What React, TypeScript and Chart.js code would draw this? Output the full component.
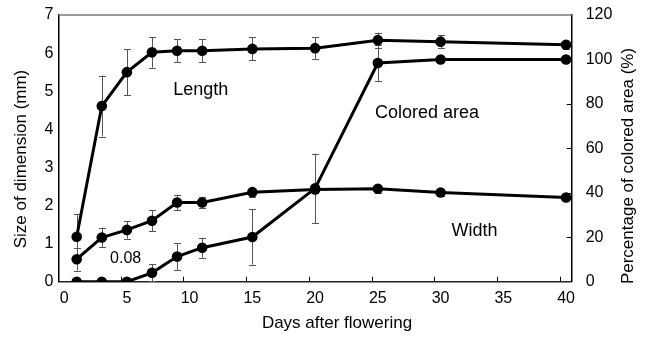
import React, { useEffect, useRef } from "react";
import { Chart, registerables } from "chart.js";

Chart.register(...registerables);

const days = [1, 3, 5, 7, 9, 11, 15, 20, 25, 30, 40];
const lengthMm = [1.18, 4.61, 5.5, 6.02, 6.06, 6.06, 6.11, 6.13, 6.34, 6.3, 6.22];
const lengthErr = [0.6, 0.8, 0.6, 0.4, 0.3, 0.3, 0.3, 0.28, 0.2, 0.17, 0.1];
const widthMm = [0.59, 1.16, 1.36, 1.6, 2.08, 2.08, 2.35, 2.42, 2.44, 2.34, 2.21];
const widthErr = [0.3, 0.26, 0.23, 0.28, 0.2, 0.15, 0.12, 0.1, 0.1, 0.1, 0.05];
const coloredPct = [0, 0, 0, 4.0, 11.3, 15.3, 20.1, 42, 98.4, 100, 100];
const coloredErr = [0, 0, 0, 3.8, 6, 4.5, 12.4, 15.6, 8, 0, 0];

const xTicks = [0, 5, 10, 15, 20, 25, 30, 35, 40];
const rightTicks = [20, 40, 60, 80, 100];

const notes = [
  { text: "Length", x: 8.7, y: 5.03, size: 18 },
  { text: "Colored area", x: 24.77, y: 4.43, size: 18 },
  { text: "Width", x: 30.88, y: 1.33, size: 18 },
  { text: "0.08", x: 3.66, y: 0.61, size: 16 },
];

const xTitle = "Days after flowering";
const yTitle = "Size of dimension (mm)";
const y2Title = "Percentage of colored area (%)";

const FONT = "'Liberation Sans', Arial, sans-serif";

const errorBars = {
  id: "errorBars",
  beforeDatasetsDraw(chart: any) {
    const ctx = chart.ctx;
    ctx.save();
    ctx.strokeStyle = "#555";
    ctx.lineWidth = 1;
    chart.data.datasets.forEach((ds: any) => {
      const ys = chart.scales[ds.yAxisID];
      const xs = chart.scales.x;
      ds.data.forEach((p: any, i: number) => {
        const e = ds.errors[i];
        if (!e) return;
        const px = Math.round(xs.getPixelForValue(p.x)) + 0.5;
        const lo = Math.max(p.y - e, ys.min);
        const t = ys.getPixelForValue(p.y + e);
        const b = ys.getPixelForValue(lo);
        ctx.beginPath();
        ctx.moveTo(px, t);
        ctx.lineTo(px, b);
        ctx.moveTo(px - 3.5, Math.round(t) + 0.5);
        ctx.lineTo(px + 3.5, Math.round(t) + 0.5);
        if (lo > ys.min) {
          ctx.moveTo(px - 3.5, Math.round(b) + 0.5);
          ctx.lineTo(px + 3.5, Math.round(b) + 0.5);
        }
        ctx.stroke();
      });
    });
    ctx.restore();
  },
};

const decor = {
  id: "decor",
  afterDraw(chart: any) {
    const ctx = chart.ctx;
    const { left, right, top, bottom } = chart.chartArea;
    const xs = chart.scales.x;
    const yl = chart.scales.y;
    const yr = chart.scales.y2;
    ctx.save();
    // top border
    ctx.strokeStyle = "#777";
    ctx.lineWidth = 1.5;
    ctx.beginPath();
    ctx.moveTo(left, top);
    ctx.lineTo(right, top);
    ctx.stroke();
    // inward tick marks
    ctx.strokeStyle = "#000";
    ctx.lineWidth = 1;
    ctx.beginPath();
    xTicks.forEach((v) => {
      const px = Math.round(xs.getPixelForValue(v - 0.5)) + 0.5;
      ctx.moveTo(px, bottom);
      ctx.lineTo(px, bottom - 5);
    });
    rightTicks.forEach((v) => {
      const py = Math.round(yr.getPixelForValue(v)) + 0.5;
      ctx.moveTo(right, py);
      ctx.lineTo(right - 5, py);
    });
    ctx.stroke();
    // annotations
    ctx.fillStyle = "#000";
    ctx.textAlign = "left";
    ctx.textBaseline = "middle";
    notes.forEach((n) => {
      ctx.font = `${n.size}px ${FONT}`;
      ctx.fillText(n.text, xs.getPixelForValue(n.x), yl.getPixelForValue(n.y));
    });
    // axis titles
    ctx.font = `17px ${FONT}`;
    ctx.textAlign = "center";
    ctx.fillText(xTitle, 337, 323);
    ctx.save();
    ctx.translate(21, 159);
    ctx.rotate(-Math.PI / 2);
    ctx.fillText(yTitle, 0, 0);
    ctx.restore();
    ctx.save();
    ctx.translate(628, 166);
    ctx.rotate(-Math.PI / 2);
    ctx.fillText(y2Title, 0, 0);
    ctx.restore();
    ctx.restore();
  },
};

export default function App() {
  const ref = useRef<HTMLCanvasElement | null>(null);
  useEffect(() => {
    document.body.style.margin = "0";
    if (!ref.current) return;
    const mk = (ys: number[]) => days.map((d, i) => ({ x: d, y: ys[i] }));
    const common = {
      borderColor: "#000",
      backgroundColor: "#000",
      borderWidth: 3,
      pointRadius: 5.3,
      pointBackgroundColor: "#000",
      pointBorderColor: "#000",
      pointBorderWidth: 0,
      tension: 0,
      showLine: true,
    };
    const fitV = (w: number) => (s: any) => {
      s.width = w;
      s.paddingTop = 0;
      s.paddingBottom = 0;
    };
    const chart = new Chart(ref.current, {
      type: "scatter",
      data: {
        datasets: [
          { ...common, label: "Length", data: mk(lengthMm), errors: lengthErr, yAxisID: "y" } as any,
          { ...common, label: "Width", data: mk(widthMm), errors: widthErr, yAxisID: "y" } as any,
          { ...common, label: "Colored area", data: mk(coloredPct), errors: coloredErr, yAxisID: "y2" } as any,
        ],
      },
      options: {
        animation: false,
        responsive: true,
        maintainAspectRatio: false,
        layout: { padding: { top: 15, left: 0, right: 0, bottom: 0 } },
        plugins: { legend: { display: false }, tooltip: { enabled: false } },
        scales: {
          x: {
            type: "linear",
            min: -0.45,
            max: 40.45,
            afterFit: (s: any) => { s.height = 56.3; s.paddingLeft = 0; s.paddingRight = 0; },
            ticks: { stepSize: 5, includeBounds: false, padding: 7, color: "#000", font: { size: 16, family: FONT } },
            grid: { display: true, drawOnChartArea: false, drawTicks: false, color: "transparent" },
            border: { display: true, color: "#222", width: 1.5 },
          },
          y: {
            type: "linear",
            position: "left",
            min: 0,
            max: 7,
            afterFit: fitV(58.5),
            ticks: { stepSize: 1, padding: 5, color: "#000", font: { size: 16, family: FONT } },
            grid: { display: true, drawOnChartArea: false, drawTicks: false, color: "transparent" },
            border: { display: true, color: "#000", width: 1.5 },
          },
          y2: {
            type: "linear",
            position: "right",
            min: 0,
            max: 120,
            afterFit: fitV(75.3),
            ticks: { stepSize: 20, padding: 14, color: "#000", font: { size: 16, family: FONT } },
            grid: { display: true, drawOnChartArea: false, drawTicks: false, color: "transparent" },
            border: { display: true, color: "#000", width: 1.5 },
          },
        },
      } as any,
      plugins: [errorBars, decor],
    });
    return () => chart.destroy();
  }, []);
  return (
    <div style={{ width: 647, height: 338, position: "relative" }}>
      <canvas ref={ref} />
    </div>
  );
}
